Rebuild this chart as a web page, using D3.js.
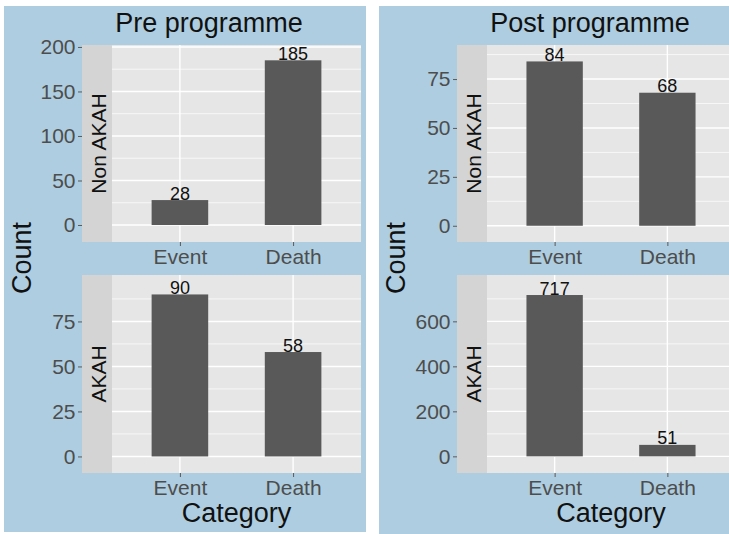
<!DOCTYPE html>
<html>
<head>
<meta charset="utf-8">
<script src="https://cdn.jsdelivr.net/npm/d3@7"></script>
<style>
  body { margin: 0; background: #ffffff; }
  svg text { font-family: "Liberation Sans", Arial, sans-serif; }
</style>
</head>
<body>
<svg id="chart" width="729" height="534"></svg>
<script>
// Counts by category, per programme period and hospital group
const categories = ["Event", "Death"];
const preNonAkah = [28, 185];
const preAkah = [90, 58];
const postNonAkah = [84, 68];
const postAkah = [717, 51];

// Axis tick labels for each facet
const ticksPreNonAkah = [0, 50, 100, 150, 200];
const ticksPreAkah = [0, 25, 50, 75];
const ticksPostNonAkah = [0, 25, 50, 75];
const ticksPostAkah = [0, 200, 400, 600];

const plotTitles = ["Pre programme", "Post programme"];
const rowLabels = ["Non AKAH", "AKAH"];
const xTitle = "Category";
const yTitle = "Count";

// ---- layout -------------------------------------------------------------
const colors = {
  bg: "#aecde0",
  panel: "#e6e6e6",
  strip: "#d4d4d4",
  bar: "#595959",
  grid: "#ffffff",
  tickText: "#4d4d4d",
  tick: "#5a5a5a",
  text: "#111111"
};

const rows = [{ top: 45, bottom: 242 }, { top: 275, bottom: 473 }];

const plots = [
  {
    title: plotTitles[0], bgX: 4, bgW: 362, bgH: 526, titleX: 209, countX: 31,
    stripX: 82, panelX: 112, panelR: 361,
    facets: [
      { values: preNonAkah, ticks: ticksPreNonAkah, domain: [-19.1, 202.2] },
      { values: preAkah, ticks: ticksPreAkah, domain: [-9.2, 100.8] }
    ]
  },
  {
    title: plotTitles[1], bgX: 379, bgW: 360, bgH: 528, titleX: 590, countX: 405,
    stripX: 457, panelX: 487, panelR: 735,
    facets: [
      { values: postNonAkah, ticks: ticksPostNonAkah, domain: [-8.3, 92.4] },
      { values: postAkah, ticks: ticksPostAkah, domain: [-74, 806] }
    ]
  }
];

const svg = d3.select("#chart");

plots.forEach(p => {
  const g = svg.append("g");

  g.append("rect")
    .attr("x", p.bgX).attr("y", 6)
    .attr("width", p.bgW).attr("height", p.bgH)
    .attr("fill", colors.bg);

  g.append("text")
    .attr("x", p.titleX).attr("y", 32)
    .attr("text-anchor", "middle")
    .attr("font-size", 27)
    .attr("fill", colors.text)
    .text(p.title);

  g.append("text")
    .attr("transform", `translate(${p.countX},258) rotate(-90)`)
    .attr("text-anchor", "middle")
    .attr("font-size", 27)
    .attr("fill", colors.text)
    .text(yTitle);

  const x = d3.scalePoint()
    .domain(categories)
    .range([p.panelX, p.panelR])
    .padding(0.6);
  const barW = x.step() * 0.5;

  p.facets.forEach((f, i) => {
    const r = rows[i];
    const y = d3.scaleLinear().domain(f.domain).range([r.bottom, r.top]);
    const fg = g.append("g");

    // strip
    fg.append("rect")
      .attr("x", p.stripX).attr("y", r.top)
      .attr("width", p.panelX - p.stripX).attr("height", r.bottom - r.top)
      .attr("fill", colors.strip);
    fg.append("text")
      .attr("transform", `translate(${p.panelX - 6},${(r.top + r.bottom) / 2}) rotate(-90)`)
      .attr("text-anchor", "middle")
      .attr("font-size", 21)
      .attr("fill", colors.text)
      .text(rowLabels[i]);

    // panel background
    fg.append("rect")
      .attr("x", p.panelX).attr("y", r.top)
      .attr("width", p.panelR - p.panelX).attr("height", r.bottom - r.top)
      .attr("fill", colors.panel);

    // minor gridlines halfway between major ticks
    const stepT = f.ticks[1] - f.ticks[0];
    const minors = f.ticks.map(t => t + stepT / 2)
      .filter(v => v > f.domain[0] && v < f.domain[1]);
    fg.selectAll(".minor").data(minors).join("line")
      .attr("x1", p.panelX).attr("x2", p.panelR)
      .attr("y1", d => y(d)).attr("y2", d => y(d))
      .attr("stroke", colors.grid).attr("stroke-width", 0.7);

    // major gridlines
    fg.selectAll(".major").data(f.ticks).join("line")
      .attr("x1", p.panelX).attr("x2", p.panelR)
      .attr("y1", d => y(d)).attr("y2", d => y(d))
      .attr("stroke", colors.grid).attr("stroke-width", 1.4);
    fg.selectAll(".vmajor").data(categories).join("line")
      .attr("x1", d => x(d)).attr("x2", d => x(d))
      .attr("y1", r.top).attr("y2", r.bottom)
      .attr("stroke", colors.grid).attr("stroke-width", 1.4);

    // bars
    fg.selectAll(".bar").data(categories).join("rect")
      .attr("x", d => x(d) - barW / 2)
      .attr("width", barW)
      .attr("y", (d, j) => y(f.values[j]))
      .attr("height", (d, j) => y(0) - y(f.values[j]))
      .attr("fill", colors.bar);

    // value labels
    fg.selectAll(".val").data(categories).join("text")
      .attr("x", d => x(d))
      .attr("y", (d, j) => y(f.values[j]) - 0.5)
      .attr("text-anchor", "middle")
      .attr("font-size", 18)
      .attr("fill", colors.text)
      .text((d, j) => f.values[j]);

    // y axis (left of the strip)
    const ya = fg.append("g")
      .attr("transform", `translate(${p.stripX},0)`)
      .call(d3.axisLeft(y).tickValues(f.ticks).tickSize(4).tickPadding(2.5));
    ya.select(".domain").remove();
    ya.selectAll(".tick line").attr("stroke", colors.tick);
    ya.selectAll(".tick text")
      .attr("font-size", 21)
      .attr("fill", colors.tickText)
      .attr("font-family", "Liberation Sans, Arial, sans-serif");

    // x axis
    const xa = fg.append("g")
      .attr("transform", `translate(0,${r.bottom})`)
      .call(d3.axisBottom(x).tickSize(4).tickPadding(3));
    xa.select(".domain").remove();
    xa.selectAll(".tick line").attr("stroke", colors.tick);
    xa.selectAll(".tick text")
      .attr("font-size", 21)
      .attr("fill", colors.tickText)
      .attr("font-family", "Liberation Sans, Arial, sans-serif");
  });

  g.append("text")
    .attr("x", (p.panelX + p.panelR) / 2).attr("y", 522)
    .attr("text-anchor", "middle")
    .attr("font-size", 27)
    .attr("fill", colors.text)
    .text(xTitle);
});
</script>
</body>
</html>
